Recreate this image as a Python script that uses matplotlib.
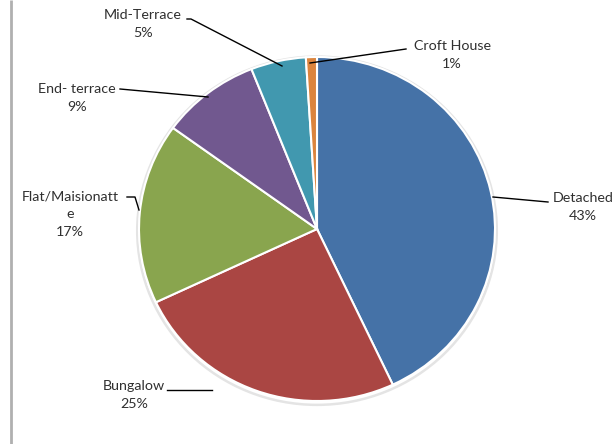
import matplotlib
matplotlib.use("Agg")
import matplotlib.pyplot as plt
from matplotlib.patches import Ellipse

categories = ["Detached", "Bungalow", "Flat/Maisionatte", "End-terrace", "Mid-Terrace", "Croft House"]
values = [43, 25, 17, 9, 5, 1]
label_texts = ["Detached\n43%", "Bungalow\n25%", "Flat/Maisionatt\ne\n17%", "End- terrace\n9%", "Mid-Terrace\n5%", "Croft House\n1%"]
colors = ["#4572A7", "#AA4643", "#89A54E", "#71588F", "#4198AF", "#DB843D"]

W, H = 615, 444
fig = plt.figure(figsize=(W / 100, H / 100), dpi=100)
fig.patch.set_facecolor("white")

# pie geometry in pixels (slightly elliptical like the reference)
cx, cy, rx, ry = 317, 229, 178, 172

ax = fig.add_axes([0, 0, 1, 1])
ax.set_axis_off()
# soft shadow / outline
ax.add_patch(Ellipse((0, -0.01), 2.02, 2.025, facecolor="none", edgecolor="#e4e4e4", lw=1.8, zorder=0))
wedges, _ = ax.pie(values, colors=colors, startangle=90, counterclock=False,
                   wedgeprops=dict(edgecolor="white", linewidth=1.5))
ax.set_aspect("auto")
ax.set_xlim(-cx / rx, (W - cx) / rx)
ax.set_ylim((cy - H) / ry, cy / ry)

ov = fig.add_axes([0, 0, 1, 1], facecolor="none")
ov.set_axis_off()
ov.set_xlim(0, W)
ov.set_ylim(H, 0)

# left border
ov.plot([11, 11], [0, H], color="#b0b0b0", lw=2, solid_capstyle="butt")

text_pos = [(583, 207), (134, 395), (70, 214), (77, 98), (143, 24), (452, 55)]
leaders = [
    [(548, 202), (493, 197)],
    [(167, 390), (212, 390)],
    [(127, 197), (135, 197), (139, 210)],
    [(120, 89), (208, 97)],
    [(187, 19), (191, 19), (282, 66)],
    [(406, 49), (310, 63)],
]

for txt, (tx, ty), pts in zip(label_texts, text_pos, leaders):
    ov.text(tx, ty, txt, ha="center", va="center", fontsize=10.3,
            family=["Lato", "DejaVu Sans"], color="#303030", linespacing=1.55)
    xs = [p[0] for p in pts]
    ys = [p[1] for p in pts]
    ov.plot(xs, ys, color="black", lw=1)

fig.savefig("out.png", dpi=100, facecolor="white")
